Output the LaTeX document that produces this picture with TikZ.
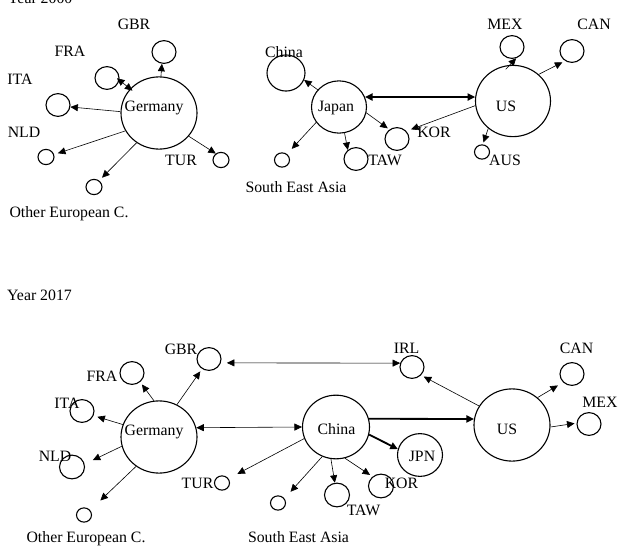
\documentclass[tikz,border=0pt]{standalone}
\usepackage{fontspec}
\setmainfont{Liberation Serif}
\usetikzlibrary{arrows.meta,shapes.geometric}
\begin{document}
\begin{tikzpicture}[x=1pt,y=-1pt,
  >={Triangle[length=7.5pt,width=7pt]},
  country/.style={draw, ellipse, line width=1.1pt, inner sep=0pt,
    minimum width=#1pt, minimum height={0.95*#1pt}},
  lbl/.style={anchor=base, inner sep=0pt, font=\fontsize{15.8}{18}\selectfont},
  link/.style={->, line width=0.6pt},
  twoway/.style={<->, line width=0.6pt},
  heavy/.style={->, line width=1.8pt},
  heavytwo/.style={<->, line width=1.8pt}]
\useasboundingbox (0,0) rectangle (618,559);

% ---------------- Year 2000 ----------------
\node[lbl] (y2000) at (40,4) {Year 2000};

\node[country=76] (g1) at (159,113) {};
\node[country=24] (gbr1) at (164,52) {};
\node[country=24] (fra1) at (107,78) {};
\node[country=24] (ita1) at (58,105) {};
\node[country=16] (nld1) at (46,157) {};
\node[country=16] (oth1) at (94,187) {};
\node[country=16] (tur1) at (221,160) {};

\node[country=55] (jp1) at (339,107) {};
\node[country=38] (chn1) at (286,73) {};
\node[country=24] (kor1) at (397,139) {};
\node[country=24] (taw1) at (356,159) {};
\node[country=15] (sea1) at (282,160) {};

\node[country=75] (us1) at (513,101) {};
\node[country=24] (mex1) at (512,47) {};
\node[country=24] (can1) at (572,51) {};
\node[country=15] (aus1) at (482,152) {};

\node[lbl] (g1t) at (154,112) {Germany};
\node[lbl] (jp1t) at (336,112) {Japan};
\node[lbl] (us1t) at (506,112) {US};
\node[lbl] (gbr1t) at (134,30) {GBR};
\node[lbl] (fra1t) at (70,57) {FRA};
\node[lbl] (ita1t) at (20,85) {ITA};
\node[lbl] (nld1t) at (24,138) {NLD};
\node[lbl] (oth1t) at (69,217) {Other European C.};
\node[lbl] (tur1t) at (181,165) {TUR};
\node[lbl] (chn1t) at (284,58) {China};
\node[lbl] (kor1t) at (434,138) {KOR};
\node[lbl] (taw1t) at (385,165) {TAW};
\node[lbl] (sea1t) at (296,192) {South East Asia};
\node[lbl] (mex1t) at (505,30) {MEX};
\node[lbl] (can1t) at (594,30) {CAN};
\node[lbl] (aus1t) at (505,165) {AUS};

\draw[link] (g1.87) -- (gbr1.-100);
\draw[twoway, shorten <=-3pt, shorten >=-3pt] (fra1.-10) -- (g1.140);
\draw[link] (g1.178) -- (ita1.-9);
\draw[link, shorten >=4pt] (g1.208) -- (nld1.17);
\draw[link, shorten >=4pt] (g1.233) -- (oth1.51);
\draw[link] (g1.-38) -- (tur1.129);

\draw[heavytwo] (jp1.21) -- (us1.174);
\draw[link] (jp1.141) -- (chn1.-21);
\draw[link, shorten >=7pt] (jp1.214) -- (sea1.50);
\draw[link] (jp1.-78) -- (taw1.132);
\draw[link, shorten >=2pt] (jp1.-12) -- (kor1.129);

\draw[link, shorten >=5pt] (us1.187) -- (kor1.40);
\draw[link, shorten <=-6pt] (us1.95) -- (mex1.-70);
\draw[link, shorten >=3pt] (us1.46) -- (can1.235);
\draw[link, shorten >=2pt] (us1.228) -- (aus1.84);

% ---------------- Year 2017 ----------------
\node[lbl] (y2017) at (39.5,300) {Year 2017};

\node[country=76] (g2) at (159,437) {};
\node[country=24] (gbr2) at (209,359) {};
\node[country=24] (fra2) at (132,373) {};
\node[country=24] (ita2) at (82,411) {};
\node[country=25] (nld2) at (72,467) {};
\node[country=15] (oth2) at (84,515) {};
\node[country=15] (tur2) at (222,483) {};

\node[country=67] (c2) at (336,427) {};
\node[country=15] (sea2) at (278,503) {};
\node[country=25] (taw2) at (337,495) {};
\node[country=25] (kor2) at (381,486) {};
\node[country=45] (jpn) at (420,455) {};
\node[country=24] (irl) at (412,367) {};

\node[country=76] (us2) at (512,425) {};
\node[country=24] (can2) at (572,374) {};
\node[country=24] (mex2) at (589,424) {};

\node[lbl] (g2t) at (154,435) {Germany};
\node[lbl] (c2t) at (336.5,434) {China};
\node[lbl] (us2t) at (507,434) {US};
\node[lbl] (jpnt) at (422,461) {JPN};
\node[lbl] (gbr2t) at (181,354) {GBR};
\node[lbl] (fra2t) at (102,381) {FRA};
\node[lbl] (ita2t) at (67,408) {ITA};
\node[lbl] (nld2t) at (55,461) {NLD};
\node[lbl] (tur2t) at (197.5,488) {TUR};
\node[lbl] (oth2t) at (86,542) {Other European C.};
\node[lbl] (sea2t) at (298.5,542) {South East Asia};
\node[lbl] (irlt) at (406.5,353) {IRL};
\node[lbl] (can2t) at (576.5,353) {CAN};
\node[lbl] (mex2t) at (600,407) {MEX};
\node[lbl] (kor2t) at (401.5,488) {KOR};
\node[lbl] (taw2t) at (363.5,515) {TAW};

\draw[link, shorten >=3pt] (g2.98) -- (fra2.-48);
\draw[link, shorten >=3pt] (g2.61) -- (gbr2.-125);
\draw[link, shorten >=4pt] (g2.161) -- (ita2.-22);
\draw[link, shorten >=9pt] (g2.194) -- (nld2.13);
\draw[link, shorten >=14pt] (g2.232) -- (oth2.38);
\draw[twoway] (g2.14) -- (c2.180);
\draw[twoway, shorten <=6pt] (gbr2.-18) -- (irl.162);

\draw[heavy] (c2.14) -- (us2.171);
\draw[heavy] (c2.-13) -- (jpn.165);
\draw[link, shorten >=3pt] (c2.-74) -- (kor2.132);
\draw[link] (c2.-99) -- (taw2.100);
\draw[link, shorten >=9pt] (c2.245) -- (sea2.35);
\draw[link, shorten >=10pt] (c2.200) -- (tur2.34);

\draw[link, shorten >=3pt] (us2.150) -- (irl.-42);
\draw[link, shorten >=6pt] (us2.47) -- (can2.223);
\draw[link, shorten >=2pt] (us2.-3) -- (mex2.176);
\end{tikzpicture}
\end{document}
